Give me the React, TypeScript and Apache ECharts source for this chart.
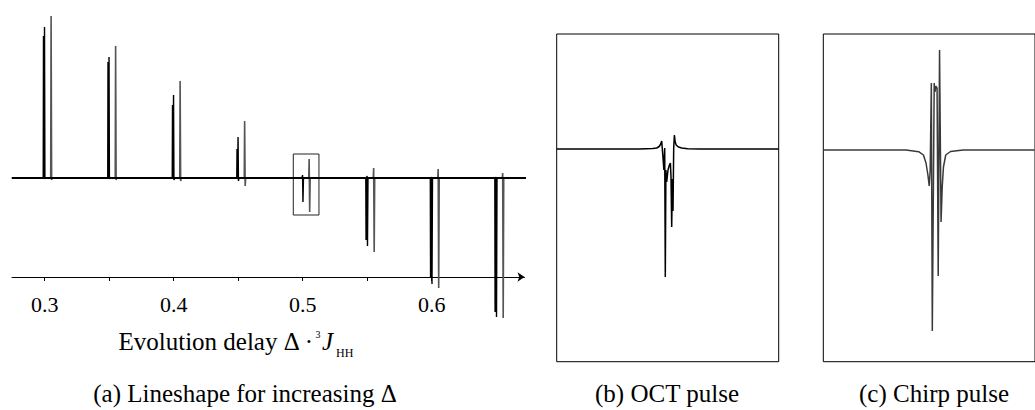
import React, { useEffect, useRef } from "react";
import * as echarts from "echarts";

// ---------- Panel (a): lineshape for increasing delay ----------
const delays = [0.3, 0.35, 0.4, 0.45, 0.5, 0.55, 0.6, 0.65];
const blackPeak = [151, 121, 83, 41, 3, 2, 1, 1];
const blackShoulder = [142, 116, 73, 29, 1, -62, -100, -134];
const blackTrough = [-1, -1, -2, -3, -24, -68, -106, -139];
const grayPeak = [162, 132, 97, 57, 19, 10, 9, 5];
const grayTrough = [-2, -2, -3, -8, -34, -74, -110, -140];
const grayShift = 0.0052;
const baselineRange = [0.2745, 0.6814];
const tickValues = [0.3, 0.35, 0.4, 0.45, 0.5, 0.55, 0.6, 0.65];
const labelValues = [0.3, 0.4, 0.5, 0.6];
const zoomBoxX = [0.4927, 0.5126];
const zoomBoxY = [24, -37];

// ---------- Panel (b): OCT pulse ----------
const octX = [-111, -28, -15, -11, -8.5, -7, -6, -5, -3.8, -3, -2.4, -1.8, -1, 0.3, 1.7, 2.7, 3.3, 4, 4.7, 5.3, 6, 6.7, 7.5, 8.5, 10.7, 14, 20, 32, 111];
const octY = [0, 0, 0.5, 1, 2.5, 5, 8, -5, -21, 1, -128, -21, -33, -21, -16, -14, -28, -78, -30, -62, 1, 14, 7, 4, 2, 1, 0.3, 0, 0];

// ---------- Panel (c): Chirp pulse ----------
const chirpX = [-111, -24, -10.7, -5.7, -3, -1, 0.4, 1.4, 2.6, 3.6, 5.6, 6.4, 7.4, 8.6, 9.8, 11.2, 12.8, 14, 15.3, 17.7, 22.7, 36, 111];
const chirpY = [0, 0, -1.7, -5, -13, -25, -36, -20, 67, -181, 67, 58, 64, 62, -126, 100, -72, -37, -17, -5, -1.5, 0, 0];

const FONT = '"Liberation Serif", "Times New Roman", serif';

function buildBlack(): number[][] {
  const d: number[][] = [];
  delays.forEach((x, i) => {
    d.push(
      [x - 0.0011, 0],
      [x - 0.0009, blackShoulder[i]],
      [x - 0.0005, 0],
      [x - 0.0001, blackPeak[i]],
      [x + 0.0002, blackTrough[i]],
      [x + 0.0006, 0]
    );
  });
  return d;
}

function buildGray(): number[][] {
  const d: number[][] = [];
  delays.forEach((x, i) => {
    const g = x + grayShift;
    d.push([g - 0.0005, 0], [g - 0.0002, grayPeak[i]], [g + 0.0002, grayTrough[i]], [g + 0.0006, 0]);
  });
  return d;
}

const zip = (xs: number[], ys: number[]) => xs.map((x, i) => [x, ys[i]]);

export default function App() {
  const ref = useRef<HTMLDivElement>(null);
  useEffect(() => {
    if (!ref.current) return;
    const chart = echarts.init(ref.current, undefined, { renderer: "svg" });
    const hidden = { show: false };
    const textStyle = (size: number, align: string, extra = "") => ({
      font: `${extra}${size}px ${FONT}`,
      fill: "#000",
      align,
      textAlign: align,
      verticalAlign: "middle",
      textVerticalAlign: "middle",
    });
    const option: any = {
      animation: false,
      backgroundColor: "#fff",
      grid: [
        { left: 12, top: 10, width: 512.5, height: 267, show: false },
        { left: 556.7, top: 34, width: 222, height: 327.7, show: true, borderColor: "#000", borderWidth: 1, backgroundColor: "transparent" },
        { left: 823.3, top: 34, width: 222, height: 327.7, show: true, borderColor: "#000", borderWidth: 1, backgroundColor: "transparent" },
      ],
      xAxis: [
        {
          gridIndex: 0,
          type: "value",
          min: 0.2747,
          max: 0.6719,
          splitLine: hidden,
          axisLine: {
            show: true,
            onZero: false,
            symbol: ["none", "arrow"],
            symbolSize: [7, 7],
            lineStyle: { color: "#000", width: 1 },
          },
          axisTick: { show: true, customValues: tickValues, length: 4, lineStyle: { color: "#000", width: 1 } },
          axisLabel: {
            customValues: labelValues,
            formatter: (v: number) => v.toFixed(1),
            color: "#000",
            fontSize: 22,
            fontFamily: FONT,
            margin: 27,
            verticalAlign: "middle",
          },
        },
        { gridIndex: 1, type: "value", min: -111, max: 111, show: false },
        { gridIndex: 2, type: "value", min: -110.7, max: 111.3, show: false },
      ],
      yAxis: [
        { gridIndex: 0, type: "value", min: -99, max: 168, show: false },
        { gridIndex: 1, type: "value", min: -212.7, max: 115, show: false },
        { gridIndex: 2, type: "value", min: -211.7, max: 116, show: false },
      ],
      series: [
        {
          type: "line",
          xAxisIndex: 0,
          yAxisIndex: 0,
          data: buildGray(),
          symbol: "none",
          clip: false,
          lineStyle: { color: "#555", width: 1.6 },
        },
        {
          type: "line",
          xAxisIndex: 0,
          yAxisIndex: 0,
          data: buildBlack(),
          symbol: "none",
          clip: false,
          lineStyle: { color: "#000", width: 1.4 },
        },
        {
          type: "line",
          xAxisIndex: 0,
          yAxisIndex: 0,
          data: [[baselineRange[0], 0], [baselineRange[1], 0]],
          symbol: "none",
          clip: false,
          lineStyle: { color: "#000", width: 2.2 },
          markArea: {
            silent: true,
            itemStyle: { color: "rgba(0,0,0,0)", borderColor: "#222", borderWidth: 1 },
            data: [[{ coord: [zoomBoxX[0], zoomBoxY[0]] }, { coord: [zoomBoxX[1], zoomBoxY[1]] }]],
          },
        },
        {
          type: "line",
          xAxisIndex: 1,
          yAxisIndex: 1,
          data: zip(octX, octY),
          symbol: "none",
          lineStyle: { color: "#000", width: 1.5 },
        },
        {
          type: "line",
          xAxisIndex: 2,
          yAxisIndex: 2,
          data: zip(chirpX, chirpY),
          symbol: "none",
          lineStyle: { color: "#3a3a3a", width: 1.5 },
        },
      ],
      graphic: [
        { type: "text", x: 313, y: 341, style: { text: "Evolution delay Δ ·", ...textStyle(25, "right") } },
        { type: "text", x: 315.5, y: 334.5, style: { text: "3", ...textStyle(10, "left") } },
        { type: "text", x: 322, y: 341, style: { text: "J", ...textStyle(25, "left", "italic ") } },
        { type: "text", x: 336, y: 353, style: { text: "HH", ...textStyle(12, "left") } },
        { type: "text", x: 245, y: 393, style: { text: "(a) Lineshape for increasing Δ", ...textStyle(25, "center") } },
        { type: "text", x: 667, y: 393, style: { text: "(b) OCT pulse", ...textStyle(25, "center") } },
        { type: "text", x: 934, y: 393, style: { text: "(c) Chirp pulse", ...textStyle(25, "center") } },
      ],
    };
    chart.setOption(option);
    return () => chart.dispose();
  }, []);
  return (
    <div
      ref={ref}
      style={{ position: "absolute", left: 0, top: 0, width: 1035, height: 410 }}
    />
  );
}
